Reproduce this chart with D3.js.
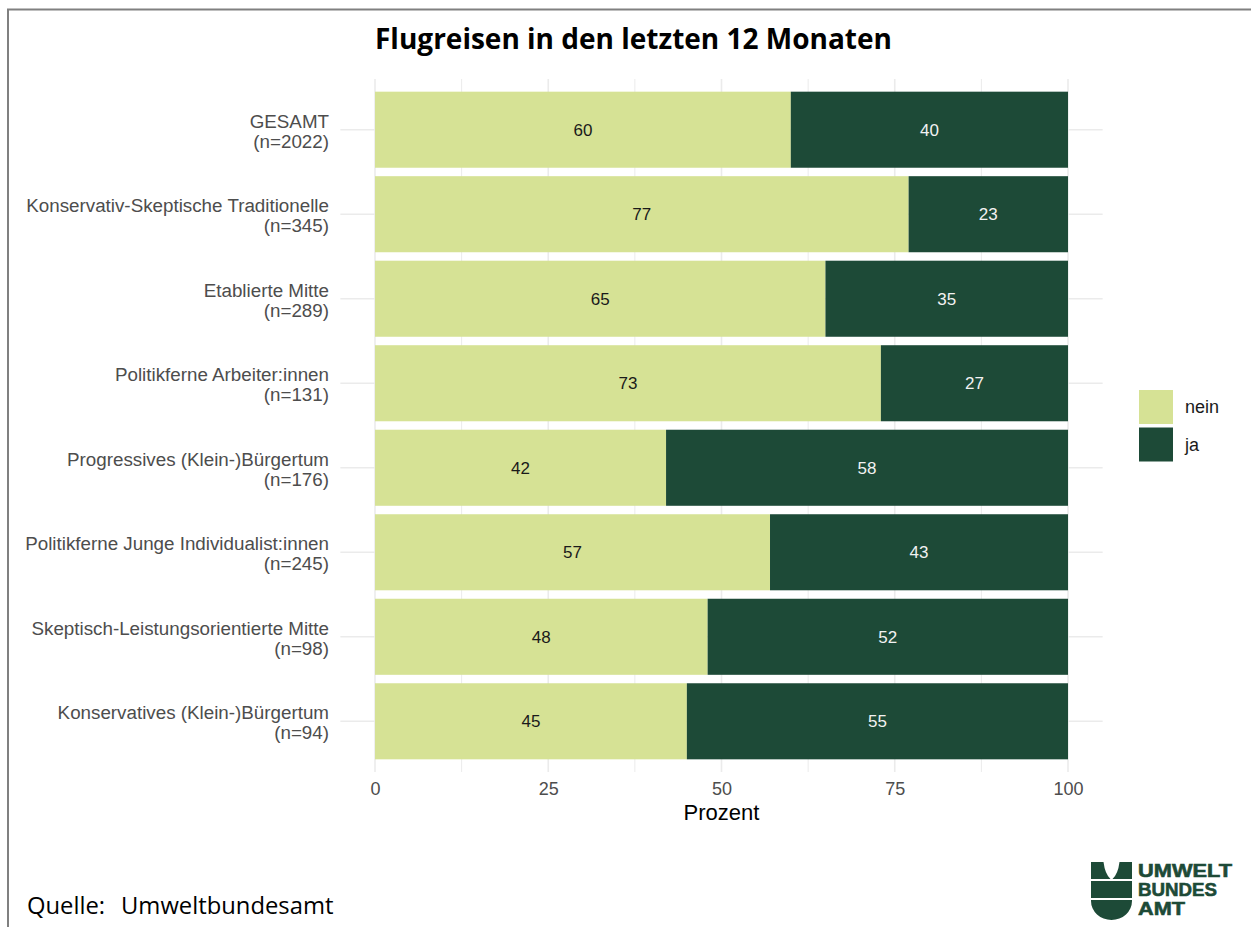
<!DOCTYPE html>
<html lang="de">
<head>
<meta charset="utf-8">
<script src="https://cdn.jsdelivr.net/npm/d3@7"></script>
<style>
  html, body { margin: 0; padding: 0; background: #ffffff; }
  svg { display: block; }
</style>
</head>
<body>
<svg id="chart" width="1251" height="927"></svg>
<script>
// Kategorien (Lebenswelten) mit Stichprobengröße
const categories = [
  "GESAMT",
  "Konservativ-Skeptische Traditionelle",
  "Etablierte Mitte",
  "Politikferne Arbeiter:innen",
  "Progressives (Klein-)Bürgertum",
  "Politikferne Junge Individualist:innen",
  "Skeptisch-Leistungsorientierte Mitte",
  "Konservatives (Klein-)Bürgertum"
];
const sampleSizes = [2022, 345, 289, 131, 176, 245, 98, 94];

// Anteile in Prozent
const neinValues = [60, 77, 65, 73, 42, 57, 48, 45];
const jaValues   = [40, 23, 35, 27, 58, 43, 52, 55];

const seriesNames = ["nein", "ja"];
const xTicks = [0, 25, 50, 75, 100];
const xMinorTicks = [12.5, 37.5, 62.5, 87.5];

const colors = { nein: "#d6e295", ja: "#1d4a37" };
const labelColors = { nein: "#1a1a1a", ja: "#f2f2f2" };

const svg = d3.select("#chart");

// Rahmen
svg.append("rect")
  .attr("x", 8).attr("y", 9.5)
  .attr("width", 1400).attr("height", 1000)
  .attr("fill", "none")
  .attr("stroke", "#808080")
  .attr("stroke-width", 2);

// Panel
const panel = { top: 79, bottom: 772, left: 340.35, right: 1102.65 };

const x = d3.scaleLinear().domain([0, 100]).range([375, 1068]);
const y = d3.scaleBand()
  .domain(categories)
  .range([panel.top, panel.bottom])
  .paddingInner(0.1)
  .paddingOuter(0.15);

const grid = svg.append("g").attr("class", "grid");

// Nebengitterlinien
grid.selectAll("line.minor")
  .data(xMinorTicks)
  .join("line")
  .attr("class", "minor")
  .attr("x1", d => x(d)).attr("x2", d => x(d))
  .attr("y1", panel.top).attr("y2", panel.bottom)
  .attr("stroke", "#ebebeb").attr("stroke-width", 1);

// Hauptgitterlinien
grid.selectAll("line.major")
  .data(xTicks)
  .join("line")
  .attr("class", "major")
  .attr("x1", d => x(d)).attr("x2", d => x(d))
  .attr("y1", panel.top).attr("y2", panel.bottom)
  .attr("stroke", "#ebebeb").attr("stroke-width", 1.6);

grid.selectAll("line.hmajor")
  .data(categories)
  .join("line")
  .attr("class", "hmajor")
  .attr("x1", panel.left).attr("x2", panel.right)
  .attr("y1", d => y(d) + y.bandwidth() / 2)
  .attr("y2", d => y(d) + y.bandwidth() / 2)
  .attr("stroke", "#ebebeb").attr("stroke-width", 1.6);

// Gestapelte Balken
const rows = categories.map((c, i) => ({ cat: c, nein: neinValues[i], ja: jaValues[i] }));
const stacked = d3.stack().keys(seriesNames)(rows);

const layers = svg.append("g").attr("class", "bars")
  .selectAll("g")
  .data(stacked)
  .join("g")
  .attr("fill", d => colors[d.key]);

layers.selectAll("rect")
  .data(d => d.map(v => ({ key: d.key, v })))
  .join("rect")
  .attr("x", d => x(d.v[0]))
  .attr("width", d => x(d.v[1]) - x(d.v[0]))
  .attr("y", d => y(d.v.data.cat))
  .attr("height", y.bandwidth());

// Werte in den Balken
const valueLabels = svg.append("g").attr("class", "values")
  .attr("font-family", "'Liberation Sans', Arial, sans-serif")
  .attr("font-size", 17)
  .attr("text-anchor", "middle");

stacked.forEach(layer => {
  valueLabels.selectAll(null)
    .data(layer)
    .join("text")
    .attr("x", d => x((d[0] + d[1]) / 2))
    .attr("y", d => y(d.data.cat) + y.bandwidth() / 2 + 6)
    .attr("fill", labelColors[layer.key])
    .text(d => d.data[layer.key]);
});

// x-Achse
const xAxis = d3.axisBottom(x).tickValues(xTicks).tickSize(0).tickPadding(0);
const gx = svg.append("g")
  .attr("transform", `translate(0, ${panel.bottom})`)
  .call(xAxis);
gx.select(".domain").remove();
gx.selectAll("text")
  .attr("y", 23)
  .attr("dy", 0)
  .attr("fill", "#4d4d4d")
  .attr("font-size", 18)
  .attr("font-family", "'Liberation Sans', Arial, sans-serif");

svg.append("text")
  .attr("x", (panel.left + panel.right) / 2)
  .attr("y", 820)
  .attr("text-anchor", "middle")
  .attr("font-family", "'Liberation Sans', Arial, sans-serif")
  .attr("font-size", 22)
  .attr("fill", "#000000")
  .text("Prozent");

// y-Achse (zweizeilige Beschriftung)
const yLabels = svg.append("g")
  .attr("font-family", "'Liberation Sans', Arial, sans-serif")
  .attr("font-size", 18.8)
  .attr("fill", "#4d4d4d")
  .attr("text-anchor", "end");

categories.forEach((c, i) => {
  const cy = y(c) + y.bandwidth() / 2;
  const t = yLabels.append("text").attr("x", 329);
  t.append("tspan").attr("x", 329).attr("y", cy - 2).text(c);
  t.append("tspan").attr("x", 329).attr("y", cy + 18).text(`(n=${sampleSizes[i]})`);
});

// Legende
const legend = svg.append("g").attr("class", "legend");
seriesNames.forEach((s, i) => {
  const ly = 390 + i * 37.5;
  legend.append("rect")
    .attr("x", 1139).attr("y", ly)
    .attr("width", 34).attr("height", 34)
    .attr("fill", colors[s]);
  legend.append("text")
    .attr("x", 1185).attr("y", ly + 23)
    .attr("font-family", "'Liberation Sans', Arial, sans-serif")
    .attr("font-size", 18)
    .attr("fill", "#1a1a1a")
    .text(s);
});

// Titel
svg.append("text")
  .attr("x", 375)
  .attr("y", 49)
  .attr("font-family", "'Open Sans', sans-serif")
  .attr("font-weight", 700)
  .attr("font-size", 28)
  .attr("fill", "#000000")
  .text("Flugreisen in den letzten 12 Monaten");

// Quelle
const src = svg.append("text")
  .attr("y", 914)
  .attr("font-family", "'Open Sans', sans-serif")
  .attr("font-size", 23.8)
  .attr("fill", "#000000");
src.append("tspan").attr("x", 27).text("Quelle:");
src.append("tspan").attr("x", 121).text("Umweltbundesamt");

// Logo
const logoColor = "#1d4a37";
const logo = svg.append("g").attr("fill", logoColor);
logo.append("path").attr("d", "M1091,862 H1103.5 Q1105,874 1110.5,879 H1091 Z");
logo.append("path").attr("d", "M1132,862 H1119.5 Q1118,874 1112.5,879 H1132 Z");
logo.append("rect").attr("x", 1091).attr("y", 881).attr("width", 41).attr("height", 17);
logo.append("path").attr("d", "M1091,900 H1132 V901 A20.5,19 0 0 1 1091,901 Z");

const logoWords = [
  { t: "UMWELT", y: 877, w: 94 },
  { t: "BUNDES", y: 896, w: 79 },
  { t: "AMT", y: 915, w: 47 }
];
logoWords.forEach(wd => {
  logo.append("text")
    .attr("x", 1138).attr("y", wd.y)
    .attr("font-family", "'Liberation Sans', Arial, sans-serif")
    .attr("font-weight", 700)
    .attr("font-size", 18.5)
    .attr("stroke", logoColor)
    .attr("stroke-width", 0.6)
    .attr("textLength", wd.w)
    .attr("lengthAdjust", "spacingAndGlyphs")
    .text(wd.t);
});
</script>
</body>
</html>
